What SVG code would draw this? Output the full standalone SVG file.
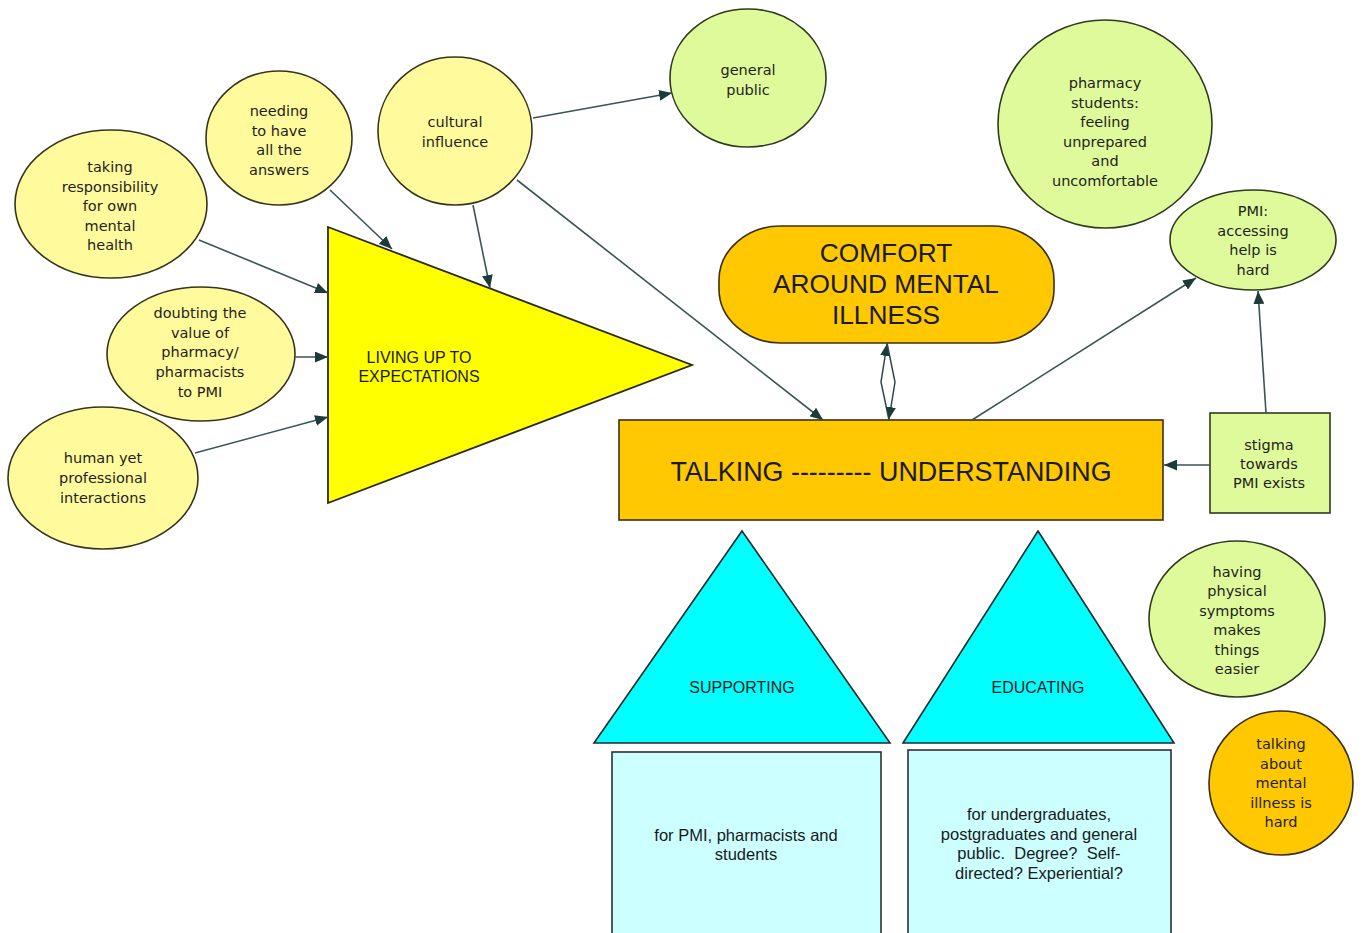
<svg xmlns="http://www.w3.org/2000/svg" width="1363" height="933" viewBox="0 0 1363 933">
<defs>
<style>
.yel{fill:#FFFA9C;stroke:#35351f;stroke-width:1.6}
.grn{fill:#DFFA9A;stroke:#2f3a1f;stroke-width:1.6}
.org{fill:#FFC800;stroke:#3a2f10;stroke-width:1.6}
.ct{font-family:"DejaVu Sans",Verdana,sans-serif;font-size:14.5px;fill:#1e1e1e;text-anchor:middle}
.st{font-family:"Liberation Sans",Arial,sans-serif;fill:#1a1a1a;text-anchor:middle}
.con{stroke:#3b5556;stroke-width:1.6;fill:none;marker-end:url(#ah)}
.dbl{stroke:#2c4a4a;stroke-width:1.5;fill:none;marker-end:url(#ahs)}
</style>
<marker id="ah" viewBox="0 0 12 10" refX="12" refY="5" markerWidth="13" markerHeight="11" markerUnits="userSpaceOnUse" orient="auto">
<path d="M0,0 L12,5 L0,10 z" fill="#1f3a3a"/>
</marker>
<marker id="ahs" viewBox="0 0 12 10" refX="12" refY="5" markerWidth="12" markerHeight="10" markerUnits="userSpaceOnUse" orient="auto">
<path d="M0,0 L12,5 L0,10 z" fill="#1f3a3a"/>
</marker>
</defs>
<rect width="1363" height="933" fill="#ffffff"/>

<g id="node-taking">
<ellipse class="yel" cx="111" cy="204" rx="96" ry="74"/>
<text class="ct"><tspan x="110" y="172">taking</tspan><tspan x="110" y="191.5">responsibility</tspan><tspan x="110" y="211">for own</tspan><tspan x="110" y="230.5">mental</tspan><tspan x="110" y="250">health</tspan></text>
</g>
<g id="node-needing">
<ellipse class="yel" cx="279" cy="138" rx="73" ry="67"/>
<text class="ct"><tspan x="279" y="116">needing</tspan><tspan x="279" y="135.5">to have</tspan><tspan x="279" y="155">all the</tspan><tspan x="279" y="174.5">answers</tspan></text>
</g>
<g id="node-cultural">
<ellipse class="yel" cx="455" cy="131" rx="77" ry="74"/>
<text class="ct"><tspan x="455" y="127">cultural</tspan><tspan x="455" y="147">influence</tspan></text>
</g>
<g id="node-general">
<ellipse class="grn" cx="748" cy="78" rx="78" ry="69"/>
<text class="ct"><tspan x="748" y="75">general</tspan><tspan x="748" y="94.5">public</tspan></text>
</g>
<g id="node-doubting">
<ellipse class="yel" cx="201" cy="354" rx="94" ry="67"/>
<text class="ct"><tspan x="200" y="318">doubting the</tspan><tspan x="200" y="337.7">value of</tspan><tspan x="200" y="357.4">pharmacy/</tspan><tspan x="200" y="377.1">pharmacists</tspan><tspan x="200" y="396.8">to PMI</tspan></text>
</g>
<g id="node-human">
<ellipse class="yel" cx="103" cy="478" rx="95" ry="71"/>
<text class="ct"><tspan x="103" y="463">human yet</tspan><tspan x="103" y="483">professional</tspan><tspan x="103" y="503">interactions</tspan></text>
</g>
<g id="node-living">
<polygon points="328,227 692,365 328,503" fill="#FFFF00" stroke="#2a2a10" stroke-width="1.8"/>
<text class="st" font-size="16"><tspan x="419" y="363">LIVING UP TO</tspan><tspan x="419" y="382">EXPECTATIONS</tspan></text>
</g>
<g id="node-comfort">
<rect class="org" x="719" y="226" width="335" height="117" rx="62" ry="54"/>
<text class="st" font-size="26.3"><tspan x="886" y="262">COMFORT</tspan><tspan x="886" y="293">AROUND MENTAL</tspan><tspan x="886" y="324">ILLNESS</tspan></text>
</g>
<g id="node-talking">
<rect class="org" x="619" y="420" width="544" height="100"/>
<text class="st" font-size="26.9" x="891" y="481">TALKING --------- UNDERSTANDING</text>
</g>
<g id="node-pharmacy-students">
<ellipse class="grn" cx="1105" cy="124" rx="107" ry="104"/>
<text class="ct"><tspan x="1105" y="88">pharmacy</tspan><tspan x="1105" y="107.5">students:</tspan><tspan x="1105" y="127">feeling</tspan><tspan x="1105" y="146.5">unprepared</tspan><tspan x="1105" y="166">and</tspan><tspan x="1105" y="185.5">uncomfortable</tspan></text>
</g>
<g id="node-pmi-access">
<ellipse class="grn" cx="1253" cy="240" rx="83" ry="50"/>
<text class="ct"><tspan x="1253" y="216">PMI:</tspan><tspan x="1253" y="235.5">accessing</tspan><tspan x="1253" y="255">help is</tspan><tspan x="1253" y="274.5">hard</tspan></text>
</g>
<g id="node-stigma">
<rect class="grn" x="1210" y="413" width="120" height="100"/>
<text class="ct"><tspan x="1269" y="450">stigma</tspan><tspan x="1269" y="469">towards</tspan><tspan x="1269" y="488">PMI exists</tspan></text>
</g>
<g id="node-physical">
<ellipse class="grn" cx="1237" cy="619" rx="88" ry="78"/>
<text class="ct"><tspan x="1237" y="577">having</tspan><tspan x="1237" y="596.4">physical</tspan><tspan x="1237" y="615.8">symptoms</tspan><tspan x="1237" y="635.2">makes</tspan><tspan x="1237" y="654.6">things</tspan><tspan x="1237" y="674">easier</tspan></text>
</g>
<g id="node-talking-hard">
<ellipse class="org" cx="1281" cy="783" rx="72" ry="72"/>
<text class="ct"><tspan x="1281" y="749">talking</tspan><tspan x="1281" y="768.5">about</tspan><tspan x="1281" y="788">mental</tspan><tspan x="1281" y="807.5">illness is</tspan><tspan x="1281" y="827">hard</tspan></text>
</g>
<g id="node-supporting">
<polygon points="742,531 890,743 594,743" fill="#00FFFF" stroke="#1f2a2a" stroke-width="1.6"/>
<text class="st" font-size="16" x="742" y="693">SUPPORTING</text>
</g>
<g id="node-educating">
<polygon points="1038,531 1174,743 903,743" fill="#00FFFF" stroke="#1f2a2a" stroke-width="1.6"/>
<text class="st" font-size="16" x="1038" y="693">EDUCATING</text>
</g>
<g id="node-supporting-box">
<rect x="612" y="752" width="269" height="200" fill="#CCFFFF" stroke="#2a3030" stroke-width="1.6"/>
<text class="st" font-size="16.5"><tspan x="746" y="841">for PMI, pharmacists and</tspan><tspan x="746" y="860">students</tspan></text>
</g>
<g id="node-educating-box">
<rect x="908" y="750" width="263" height="200" fill="#CCFFFF" stroke="#2a3030" stroke-width="1.6"/>
<text class="st" font-size="16.5" style="white-space:pre"><tspan x="1039" y="820">for undergraduates,</tspan><tspan x="1039" y="840">postgraduates and general</tspan><tspan x="1039" y="859">public.  Degree?  Self-</tspan><tspan x="1039" y="879">directed? Experiential?</tspan></text>
</g>

<g id="connectors">
<line class="con" x1="199" y1="240" x2="328" y2="293"/>
<line class="con" x1="330" y1="190" x2="392" y2="249"/>
<line class="con" x1="473" y1="205" x2="490" y2="288"/>
<line class="con" x1="295" y1="357" x2="328" y2="357"/>
<line class="con" x1="195" y1="453" x2="328" y2="417"/>
<line class="con" x1="533" y1="118" x2="672" y2="93"/>
<line class="con" x1="517" y1="180" x2="823" y2="420"/>
<line class="con" x1="972" y1="420" x2="1196" y2="278"/>
<line class="con" x1="1266" y1="413" x2="1258" y2="291"/>
<line class="con" x1="1210" y1="465" x2="1164" y2="465"/>
<path class="dbl" d="M889,420 L881,382 L887,344"/>
<path class="dbl" d="M887,343 L895,382 L889,419"/>
</g>
</svg>
